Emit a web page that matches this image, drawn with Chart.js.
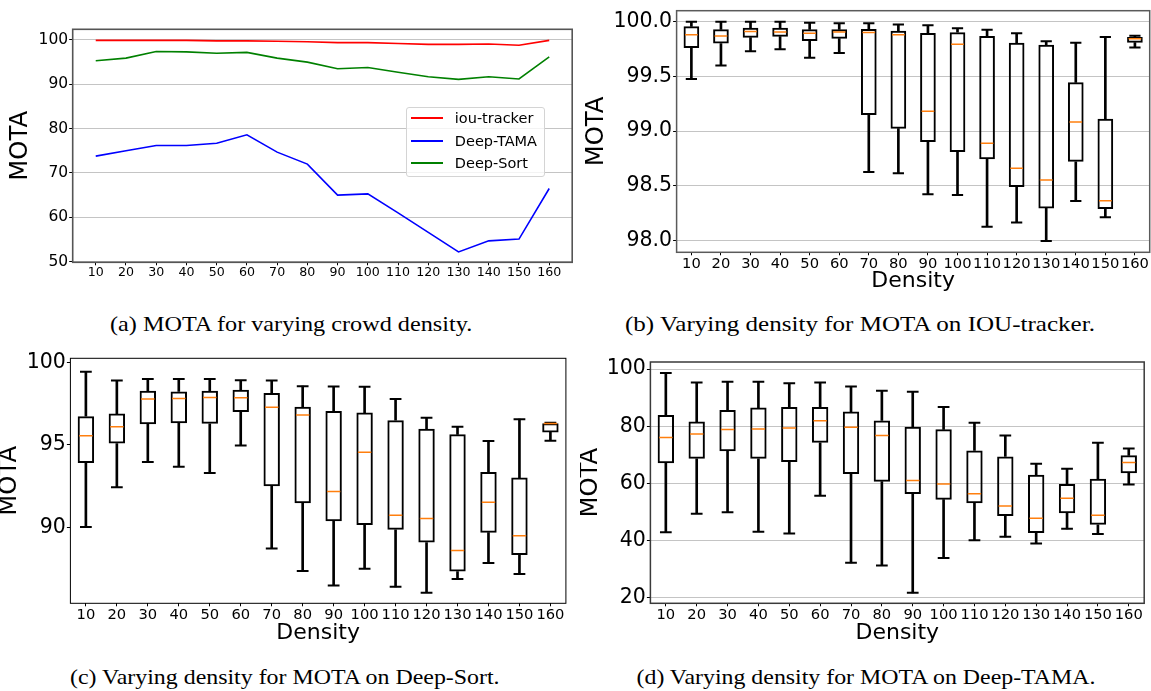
<!DOCTYPE html>
<html>
<head>
<meta charset="utf-8">
<script src="https://cdn.jsdelivr.net/npm/chart.js@4.4.1/dist/chart.umd.min.js"></script>
<style>
    html, body { margin: 0; padding: 0; background: #fff; }
    #page { position: relative; width: 1151px; height: 691px; overflow: hidden; }
    canvas { position: absolute; }
    .caption {
        position: absolute;
        font-family: 'Liberation Serif', 'Times New Roman', serif;
        font-size: 21px;
        line-height: 1;
        white-space: nowrap;
        color: #000;
        transform-origin: center center;
    }
    .legend {
        position: absolute;
        box-sizing: border-box;
        border: 1px solid #d4d4d4;
        border-radius: 3px;
        background: rgba(255, 255, 255, 0.8);
        font-family: 'DejaVu Sans', sans-serif;
        font-size: 14.5px;
        color: #000;
    }
    .legend .row { position: absolute; left: 0; width: 100%; height: 22px; line-height: 22px; }
    .legend .swatch { position: absolute; top: 10px; width: 31.6px; height: 2px; }
    .legend .label { position: absolute; white-space: nowrap; }
</style>
</head>
<body>
<div id="page">
    <canvas id="chart-a"></canvas>
    <canvas id="chart-b"></canvas>
    <canvas id="chart-c"></canvas>
    <canvas id="chart-d"></canvas>
    <div id="legend-a" class="legend"></div>
</div>
<script>
(function () {
    const densities = [10, 20, 30, 40, 50, 60, 70, 80, 90, 100, 110, 120, 130, 140, 150, 160];
    const densityLabels = densities.map(String);

    // (a) MOTA per density, one line per tracker
    const trackerNames = ['iou-tracker', 'Deep-TAMA', 'Deep-Sort'];
    const iouTrackerMota = [99.9, 99.9, 99.9, 99.9, 99.8, 99.8, 99.7, 99.6, 99.4, 99.4, 99.2, 99.0, 99.0, 99.1, 98.8, 99.9];
    const deepTamaMota = [73.8, 75.0, 76.2, 76.2, 76.7, 78.6, 74.7, 72.0, 65.0, 65.3, 61.0, 56.6, 52.2, 54.7, 55.1, 66.5];
    const deepSortMota = [95.3, 95.9, 97.4, 97.3, 97.0, 97.2, 95.9, 95.0, 93.5, 93.8, 92.7, 91.7, 91.1, 91.7, 91.2, 96.2];
    const trackerColors = ['#ff0000', '#0000ff', '#008000'];
    const ticksA = [50, 60, 70, 80, 90, 100];

    // (b) IOU-tracker box stats
    const iouHigh = [100.0, 100.0, 100.0, 100.0, 99.99, 99.985, 99.985, 99.973, 99.967, 99.94, 99.927, 99.893, 99.82, 99.808, 99.86, 99.872];
    const iouQ3 = [99.957, 99.93, 99.945, 99.945, 99.93, 99.93, 99.933, 99.918, 99.896, 99.903, 99.869, 99.808, 99.79, 99.446, 99.114, 99.86];
    const iouMedian = [99.88, 99.87, 99.91, 99.906, 99.893, 99.906, 99.9, 99.88, 99.181, 99.793, 98.889, 98.661, 98.554, 99.084, 98.365, 99.845];
    const iouQ1 = [99.76, 99.8, 99.854, 99.863, 99.823, 99.845, 99.148, 99.023, 98.901, 98.81, 98.743, 98.49, 98.295, 98.721, 98.289, 99.808];
    const iouLow = [99.476, 99.6, 99.73, 99.747, 99.671, 99.714, 98.627, 98.615, 98.423, 98.417, 98.128, 98.167, 97.997, 98.362, 98.213, 99.763];
    const ticksB = [98.0, 98.5, 99.0, 99.5, 100.0];

    // (c) Deep-Sort box stats
    const sortHigh = [99.44, 98.9, 99.0, 99.0, 99.0, 98.92, 98.9, 98.56, 98.54, 98.52, 97.78, 96.64, 96.1, 95.24, 96.56, 96.34];
    const sortQ3 = [96.74, 96.9, 98.28, 98.24, 98.28, 98.34, 98.14, 97.32, 97.06, 96.96, 96.5, 95.98, 95.64, 93.36, 93.02, 96.32];
    const sortMedian = [95.56, 96.1, 97.78, 97.82, 97.88, 97.86, 97.28, 96.82, 92.18, 94.56, 90.74, 90.54, 88.6, 91.52, 89.5, 96.3];
    const sortQ1 = [93.9, 95.08, 96.26, 96.32, 96.28, 97.0, 92.5, 91.46, 90.38, 90.14, 89.86, 89.08, 87.32, 89.68, 88.32, 95.76];
    const sortLow = [90.02, 92.44, 93.96, 93.68, 93.3, 94.96, 88.72, 87.36, 86.48, 87.5, 86.4, 86.04, 86.88, 87.84, 87.18, 95.26];
    const ticksC = [90, 95, 100];

    // (d) Deep-TAMA box stats
    const tamaHigh = [98.6, 95.3, 95.5, 95.5, 95.0, 95.3, 93.9, 92.4, 92.0, 86.7, 81.2, 76.7, 66.9, 65.1, 74.2, 72.2];
    const tamaQ3 = [83.9, 81.6, 85.7, 86.5, 86.7, 86.7, 85.1, 82.0, 79.8, 78.9, 71.5, 69.4, 63.0, 59.8, 61.6, 69.8];
    const tamaMedian = [76.0, 77.3, 78.8, 79.0, 79.4, 81.9, 79.6, 76.7, 61.0, 59.8, 56.4, 52.1, 47.8, 54.8, 48.8, 67.3];
    const tamaQ1 = [67.0, 68.6, 71.2, 68.6, 67.5, 74.2, 63.3, 60.6, 56.3, 54.3, 53.0, 48.6, 42.6, 49.5, 45.5, 63.5];
    const tamaLow = [42.9, 49.4, 49.9, 43.1, 42.5, 55.7, 32.2, 31.3, 21.7, 33.9, 40.1, 41.3, 39.0, 44.1, 42.3, 59.6];
    const ticksD = [20, 40, 60, 80, 100];

    const captions = [
        {text: '(a) MOTA for varying crowd density.', cx: 290.5, cy: 324.7, width: 362},
        {text: '(b) Varying density for MOTA on IOU-tracker.', cx: 860.3, cy: 324.7, width: 470},
        {text: '(c) Varying density for MOTA on Deep-Sort.', cx: 285.2, cy: 677.5, width: 430},
        {text: '(d) Varying density for MOTA on Deep-TAMA.', cx: 866.3, cy: 677.5, width: 459},
    ];

    Chart.defaults.font.family = "'DejaVu Sans', sans-serif";
    Chart.defaults.color = '#000';
    Chart.defaults.animation = false;

    const GRID = '#c4c4c4';
    const MEDIAN = '#ff7f0e';

    // matplotlib-like box around the plot area
    const framePlugin = {
        id: 'frame',
        afterDatasetsDraw(chart, args, opts) {
            const {ctx, chartArea: a} = chart;
            ctx.save();
            ctx.strokeStyle = opts.color;
            ctx.lineWidth = opts.width;
            ctx.strokeRect(a.left, a.top, a.right - a.left, a.bottom - a.top);
            ctx.restore();
        }
    };

    function placeCanvas(id, box) {
        const c = document.getElementById(id);
        c.width = box.x2 - box.x1;
        c.height = box.y2 - box.y1;
        c.style.left = box.x1 + 'px';
        c.style.top = box.y1 + 'px';
        return c;
    }

    // y scale: fixed width so the plot area lands where the figure has it
    function yAxis(p) {
        return {
            type: 'linear',
            min: p.min,
            max: p.max,
            afterBuildTicks: s => { s.ticks = p.ticks.map(v => ({value: v})); },
            afterFit: s => { s.width = p.width; s.paddingTop = 0; s.paddingBottom = 0; },
            ticks: {
                font: {size: p.tickSize},
                padding: 1,
                callback: p.format || (v => String(v)),
            },
            grid: {
                drawOnChartArea: p.grid,
                color: GRID,
                lineWidth: 1,
                tickLength: 3.5,
                tickColor: '#000',
                tickWidth: 1,
            },
            border: {display: false},
            title: {
                display: true,
                text: 'MOTA',
                font: {size: 24.3, lineHeight: 1},
                padding: {top: p.titleX - 12.15, bottom: 0},
            },
        };
    }

    function xAxisCategory(p) {
        return {
            type: 'category',
            labels: densityLabels,
            offset: true,
            afterFit: s => { s.height = p.height; s.paddingLeft = 0; s.paddingRight = 0; },
            ticks: {font: {size: p.tickSize}, padding: 0, autoSkip: false, maxRotation: 0, minRotation: 0},
            grid: {offset: false, drawOnChartArea: false, tickLength: 3, tickColor: '#000'},
            border: {display: false},
            title: {
                display: true,
                text: 'Density',
                font: {size: 22, lineHeight: 1.2},
                padding: {top: 0, bottom: p.titleBottom - 13.2},
            },
        };
    }

    function boxDatasets(low, q1, median, q3, high) {
        const step = ctx => ctx.chart.scales.x.width / densities.length;
        return [
            {
                type: 'line', order: 0, data: median, showLine: false,
                pointStyle: 'line', pointRadius: ctx => step(ctx) * 0.265 - 1.5,
                pointBorderColor: MEDIAN, pointBorderWidth: 1.5, pointHoverRadius: 0,
            },
            {
                type: 'line', order: 1, data: high, showLine: false,
                pointStyle: 'line', pointRadius: ctx => step(ctx) * 0.19,
                pointBorderColor: '#000', pointBorderWidth: 2, pointHoverRadius: 0,
            },
            {
                type: 'line', order: 1, data: low, showLine: false,
                pointStyle: 'line', pointRadius: ctx => step(ctx) * 0.19,
                pointBorderColor: '#000', pointBorderWidth: 2, pointHoverRadius: 0,
            },
            {
                type: 'bar', order: 2, grouped: false,
                data: q1.map((v, i) => [v, q3[i]]),
                backgroundColor: 'rgba(0,0,0,0)', borderColor: '#000', borderWidth: 2,
                borderSkipped: false, barPercentage: 0.53, categoryPercentage: 1,
            },
            {
                type: 'bar', order: 3, grouped: false,
                data: q3.map((v, i) => [v, high[i]]),
                backgroundColor: '#000', borderWidth: 0, barThickness: 2,
            },
            {
                type: 'bar', order: 3, grouped: false,
                data: low.map((v, i) => [v, q1[i]]),
                backgroundColor: '#000', borderWidth: 0, barThickness: 2,
            },
        ];
    }

    function boxChart(id, box, area, y, x, stats, frame) {
        const canvas = placeCanvas(id, box);
        return new Chart(canvas, {
            type: 'bar',
            data: {labels: densityLabels, datasets: boxDatasets(...stats)},
            options: {
                responsive: false,
                events: [],
                layout: {padding: {left: 0, bottom: 0, top: area.top - box.y1, right: box.x2 - area.right}},
                scales: {
                    x: xAxisCategory({height: box.y2 - area.bottom, tickSize: x.tickSize, titleBottom: box.y2 - x.titleY}),
                    y: yAxis({
                        min: y.min, max: y.max, ticks: y.ticks, format: y.format, grid: y.grid,
                        tickSize: y.tickSize, width: area.left - box.x1, titleX: y.titleX - box.x1,
                    }),
                },
                plugins: {legend: {display: false}, tooltip: {enabled: false}, frame: frame},
            },
            plugins: [framePlugin],
        });
    }

    // (a) line chart
    const boxA = {x1: 0, y1: 0, x2: 578, y2: 312};
    const areaA = {left: 72.7, top: 29.3, right: 572.2, bottom: 262.3};
    const seriesA = [iouTrackerMota, deepTamaMota, deepSortMota];
    const chartA = new Chart(placeCanvas('chart-a', boxA), {
        type: 'line',
        data: {
            datasets: seriesA.map((values, i) => ({
                label: trackerNames[i],
                data: densities.map((d, j) => ({x: d, y: values[j]})),
                borderColor: trackerColors[i],
                borderWidth: 1.6,
                pointRadius: 0,
                tension: 0,
            })),
        },
        options: {
            responsive: false,
            events: [],
            layout: {padding: {left: 0, bottom: 0, top: areaA.top - boxA.y1, right: boxA.x2 - areaA.right}},
            scales: {
                x: {
                    type: 'linear',
                    min: 2.38,
                    max: 167.6,
                    afterBuildTicks: s => { s.ticks = densities.map(v => ({value: v})); },
                    afterFit: s => { s.height = boxA.y2 - areaA.bottom; s.paddingLeft = 0; s.paddingRight = 0; },
                    ticks: {font: {size: 12.6}, padding: 0, autoSkip: false, maxRotation: 0, minRotation: 0, callback: v => String(v)},
                    grid: {drawOnChartArea: false, tickLength: 3, tickColor: '#000'},
                    border: {display: false},
                },
                y: yAxis({
                    min: 49.86, max: 102.4, ticks: ticksA, grid: true, tickSize: 15.5,
                    width: areaA.left - boxA.x1, titleX: 20.4,
                }),
            },
            plugins: {legend: {display: false}, tooltip: {enabled: false}, frame: {color: '#555', width: 1.6}},
        },
        plugins: [framePlugin],
    });

    // (b) IOU-tracker
    boxChart('chart-b',
        {x1: 580, y1: 0, x2: 1151, y2: 300},
        {left: 676.6, top: 10.7, right: 1149.7, bottom: 252.3},
        {min: 97.894, max: 100.1, ticks: ticksB, format: v => v.toFixed(1), grid: true, tickSize: 20.5, titleX: 596.4},
        {tickSize: 14.7, titleY: 281.7},
        [iouLow, iouQ1, iouMedian, iouQ3, iouHigh],
        {color: '#5a5a5a', width: 1.5});

    // (c) Deep-Sort
    boxChart('chart-c',
        {x1: 0, y1: 340, x2: 578, y2: 650},
        {left: 70.4, top: 358.3, right: 565.9, bottom: 603.3},
        {min: 85.4, max: 100.25, ticks: ticksC, grid: false, tickSize: 20.5, titleX: 10},
        {tickSize: 14.7, titleY: 633.3},
        [sortLow, sortQ1, sortMedian, sortQ3, sortHigh],
        {color: '#000', width: 1});

    // (d) Deep-TAMA
    boxChart('chart-d',
        {x1: 580, y1: 340, x2: 1151, y2: 650},
        {left: 650.4, top: 362, right: 1144.2, bottom: 603.3},
        {min: 18.04, max: 102.45, ticks: ticksD, grid: true, tickSize: 20.5, titleX: 591},
        {tickSize: 14.7, titleY: 633.3},
        [tamaLow, tamaQ1, tamaMedian, tamaQ3, tamaHigh],
        {color: '#3a3a3a', width: 1.5});

    // legend of (a), built from the chart's own datasets
    const legend = document.getElementById('legend-a');
    Object.assign(legend.style, {left: '406.3px', top: '106.7px', width: '139px', height: '70px'});
    chartA.data.datasets.forEach((ds, i) => {
        const row = document.createElement('div');
        row.className = 'row';
        row.style.top = (11.6 + 22.35 * i - 11 - 1) + 'px';
        const swatch = document.createElement('span');
        swatch.className = 'swatch';
        swatch.style.left = '4px';
        swatch.style.background = trackerColors[i];
        const label = document.createElement('span');
        label.className = 'label';
        label.style.left = '47.5px';
        label.textContent = ds.label;
        row.append(swatch, label);
        legend.appendChild(row);
    });

    // captions, squeezed to the width they have in the figure
    const page = document.getElementById('page');
    captions.forEach(cap => {
        const el = document.createElement('div');
        el.className = 'caption';
        el.textContent = cap.text;
        page.appendChild(el);
        const k = cap.width / el.offsetWidth;
        el.style.left = (cap.cx - el.offsetWidth / 2) + 'px';
        el.style.top = (cap.cy - el.offsetHeight / 2) + 'px';
        el.style.transform = `scaleX(${k})`;
    });
})();
</script>
</body>
</html>
